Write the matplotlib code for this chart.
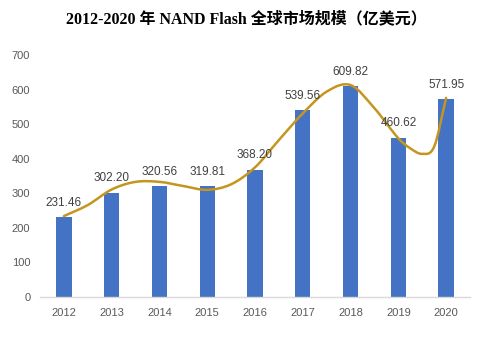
import numpy as np
import matplotlib
matplotlib.use('Agg')
import matplotlib.pyplot as plt
from matplotlib.path import Path
from matplotlib.patches import PathPatch

years = ['2012', '2013', '2014', '2015', '2016', '2017', '2018', '2019', '2020']
market = [231.46, 302.20, 320.56, 319.81, 368.20, 539.56, 609.82, 460.62, 571.95]

# smoothed trend line knots (category position, value)
trend_x = [0, 0.5, 1, 1.5, 2, 2.5, 3, 3.5, 4, 4.5, 5, 5.5, 6, 6.5, 7, 7.25, 7.5, 7.75, 8]
trend_y = [234, 266, 311, 333, 333, 321, 310, 326, 375, 454, 531, 594, 613, 546, 459, 430, 414, 435, 576]

bar_color = '#4472C4'
line_color = '#C4961E'
tick_color = '#595959'

fig = plt.figure(figsize=(4.78, 3.39), dpi=100)
ax = fig.add_axes([40/478, 42/339, 430/478, 242/339])

x = np.arange(len(years))
ax.bar(x, market, width=0.32, color=bar_color, zorder=2)

for xi, v in zip(x, market):
	ax.annotate('%.2f' % v, (xi, v), xytext=(0, 6), textcoords='offset points',
		ha='center', va='bottom', fontsize=8.5, color='#404040',
		family='Liberation Sans', zorder=4)

# cubic hermite curve through the trend knots, drawn as bezier segments
tx = np.array(trend_x, dtype=float)
ty = np.array(trend_y, dtype=float)
n = len(tx)
slope = np.zeros(n)
slope[0] = (ty[1] - ty[0]) / (tx[1] - tx[0])
slope[-1] = (ty[-1] - ty[-2]) / (tx[-1] - tx[-2])
for i in range(1, n - 1):
	slope[i] = (ty[i+1] - ty[i-1]) / (tx[i+1] - tx[i-1])

verts = [(tx[0], ty[0])]
codes = [Path.MOVETO]
for i in range(n - 1):
	d = (tx[i+1] - tx[i]) / 3.0
	verts += [(tx[i] + d, ty[i] + slope[i]*d),
			  (tx[i+1] - d, ty[i+1] - slope[i+1]*d),
			  (tx[i+1], ty[i+1])]
	codes += [Path.CURVE4] * 3
ax.add_patch(PathPatch(Path(verts, codes), facecolor='none', edgecolor=line_color,
	lw=1.8, capstyle='round', zorder=3))

ax.set_xlim(-0.5, len(years) - 0.5)
ax.set_ylim(0, 700)
ax.set_yticks(range(0, 701, 100))
ax.set_xticks(x)
ax.set_xticklabels(years)

for s in ['top', 'right', 'left']:
	ax.spines[s].set_visible(False)
ax.spines['bottom'].set_color('#D9D9D9')
ax.spines['bottom'].set_linewidth(1.0)
ax.tick_params(axis='both', length=0, labelsize=8, colors=tick_color)
ax.tick_params(axis='y', pad=7)
ax.tick_params(axis='x', pad=8)
for lab in ax.get_xticklabels() + ax.get_yticklabels():
	lab.set_family('Liberation Sans')

fig.text(246.5/478, 1 - 19/339, '2012-2020 年 NAND Flash 全球市场规模（亿美元）',
	ha='center', va='center', fontsize=11.5, fontweight='bold',
	family=['Liberation Serif', 'Noto Sans CJK SC'])

fig.savefig('out.png', dpi=100)
plt.close(fig)
